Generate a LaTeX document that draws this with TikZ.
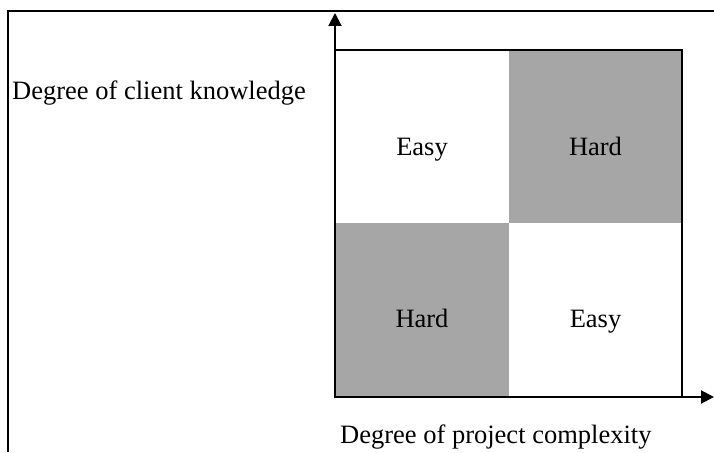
\documentclass[tikz,border=0pt]{standalone}
\usepackage{fontspec}
\setmainfont{Liberation Serif}
\usetikzlibrary{arrows.meta}
\begin{document}
\begin{tikzpicture}[x=1pt,y=-1pt,
  lbl/.style={inner sep=0pt,font=\fontsize{26.5}{30}\selectfont},
  axis/.style={line width=2pt,-{Triangle[length=13pt,width=13pt]}},
  frame/.style={line width=2pt},
  quad/.style={fill=black!35,draw=none}]
\useasboundingbox (0,0) rectangle (714,452);
% outer frame (only top and left visible)
\draw[frame] (8,452) -- (8,11) -- (714,11);
% quadrants
\coordinate (sq-tl) at (335,50);
\coordinate (sq-br) at (682,397);
\fill[quad] (509,50) rectangle (682,223);
\fill[quad] (335,223) rectangle (509,397);
\draw[line width=1.2pt] (sq-tl) rectangle (sq-br);
% axes
\coordinate (origin) at (335,397);
\coordinate (ytip) at (335,13);
\coordinate (xtip) at (714,397);
\draw[axis] (origin) -- (ytip);
\draw[axis] (origin) -- (xtip);
% labels
\node[lbl,anchor=base west] (ylab) at (12,99) {Degree of client knowledge};
\node[lbl,anchor=base west] (xlab) at (340,443) {Degree of project complexity};
\node[lbl,anchor=base] (q1) at (422,155) {Easy};
\node[lbl,anchor=base] (q2) at (595.5,155) {Hard};
\node[lbl,anchor=base] (q3) at (422,327) {Hard};
\node[lbl,anchor=base] (q4) at (595.5,327) {Easy};
\end{tikzpicture}
\end{document}
